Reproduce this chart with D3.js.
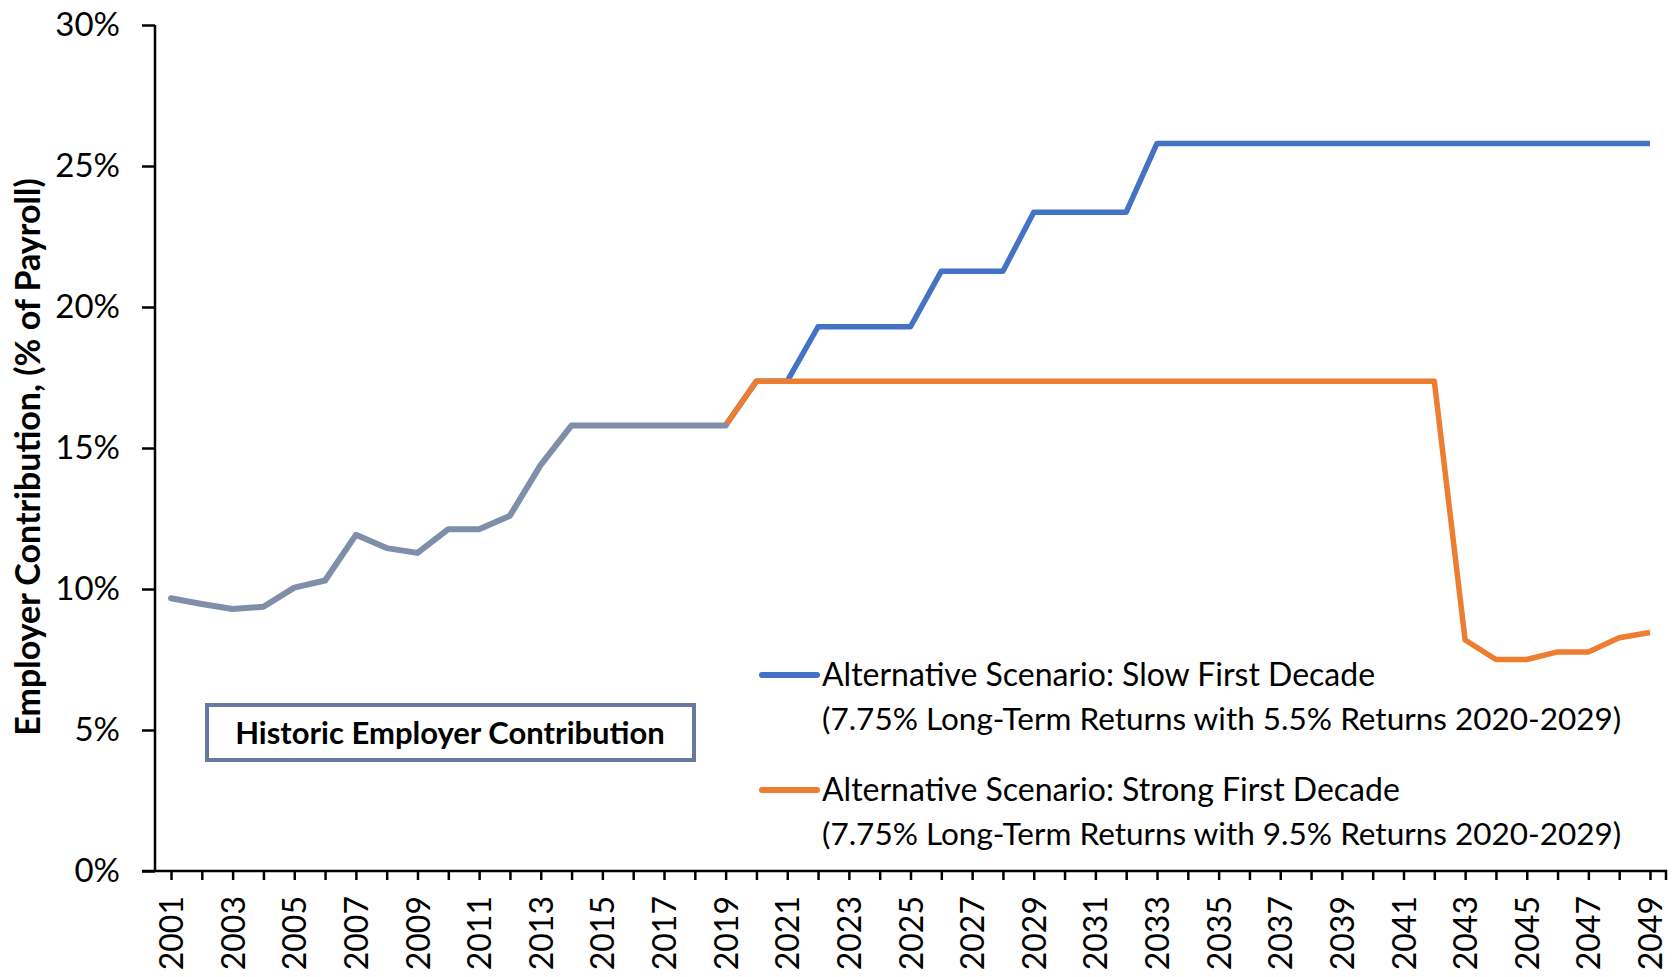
<!DOCTYPE html>
<html><head><meta charset="utf-8">
<script src="https://cdn.jsdelivr.net/npm/d3@7"></script>
<style>body{margin:0;background:#fff}svg{display:block}text{font-family:Lato,"Open Sans",sans-serif;fill:#000}</style>
</head><body><svg id="c" width="1675" height="977"></svg>
<script>
const years = d3.range(2001, 2050);
const historicYears = d3.range(2001, 2020);
const historic = [9.67,9.47,9.29,9.37,10.05,10.3,11.92,11.45,11.28,12.12,12.12,12.6,14.4,15.8,15.8,15.8,15.8,15.8,15.8];
const slowYears = d3.range(2019, 2050);
const slow = [15.8,17.37,17.37,19.3,19.3,19.3,19.3,21.27,21.27,21.27,23.36,23.36,23.36,23.36,25.8,25.8,25.8,25.8,25.8,25.8,25.8,25.8,25.8,25.8,25.8,25.8,25.8,25.8,25.8,25.8,25.8];
const strong = [15.8,17.37,17.37,17.37,17.37,17.37,17.37,17.37,17.37,17.37,17.37,17.37,17.37,17.37,17.37,17.37,17.37,17.37,17.37,17.37,17.37,17.37,17.37,17.37,8.19,7.5,7.5,7.77,7.77,8.27,8.46];
const yTicks = [0,5,10,15,20,25,30];
const xLabelYears = years.filter((d,i)=>i%2===0);
const legendLabels = [
  ["Alternative Scenario: Slow First Decade","(7.75% Long-Term Returns with 5.5% Returns 2020-2029)"],
  ["Alternative Scenario: Strong First Decade","(7.75% Long-Term Returns with 9.5% Returns 2020-2029)"]
];
const boxLabel = "Historic Employer Contribution";
const yTitle = "Employer Contribution, (% of Payroll)";
const colors = {historic:"#7f8ea9", slow:"#4472c4", strong:"#ed7d31", box:"#6878a0"};

const svg = d3.select("#c");
const x = d3.scalePoint().domain(years).range([171,1650]);
const y = d3.scaleLinear().domain([0,30]).range([871,25]);
const axisLeftX = 155, axisRightX = 1666;

// Y axis
const ya = svg.append("g").attr("transform",`translate(${axisLeftX},0)`)
  .call(d3.axisLeft(y).tickValues(yTicks).tickFormat(d=>d+"%").tickSize(13).tickPadding(22));
ya.select(".domain").attr("stroke","#000").attr("stroke-width",2.5).attr("d",`M0,${y(30)}V${y(0)}`);
ya.selectAll(".tick line").attr("stroke","#000").attr("stroke-width",2.5);
ya.selectAll(".tick text").style("font-size","33px").attr("fill","#000");

// X axis
const xa = svg.append("g").attr("transform",`translate(0,${y(0)})`)
  .call(d3.axisBottom(x).tickValues(years).tickSize(9).tickFormat(d=> xLabelYears.includes(d)? String(d):""));
xa.select(".domain").attr("stroke","#000").attr("stroke-width",2.5).attr("d",`M${axisLeftX-13},0H${axisRightX}V9`);
xa.selectAll(".tick line").attr("stroke","#000").attr("stroke-width",2.5);
xa.selectAll(".tick text").style("font-size","32px").attr("fill","#000")
  .attr("text-anchor","end").attr("transform","rotate(-90)").attr("x",-25).attr("y",0).attr("dy","0.36em");

// lines
const line = (xs)=> d3.line().x((d,i)=>x(xs[i])).y(d=>y(d)).curve(d3.curveLinear);
svg.append("path").datum(slow).attr("d",line(slowYears)).attr("fill","none").attr("stroke",colors.slow).attr("stroke-width",5.5).attr("stroke-linejoin","round");
svg.append("path").datum(strong).attr("d",line(slowYears)).attr("fill","none").attr("stroke",colors.strong).attr("stroke-width",5.5).attr("stroke-linejoin","round");
svg.append("path").datum(historic).attr("d",line(historicYears)).attr("fill","none").attr("stroke",colors.historic).attr("stroke-width",6).attr("stroke-linejoin","round").attr("stroke-linecap","round");

// legend
const leg = svg.append("g");
[[colors.slow,675],[colors.strong,790]].forEach(([c,ly],i)=>{
  leg.append("line").attr("x1",762).attr("x2",817).attr("y1",ly).attr("y2",ly).attr("stroke",c).attr("stroke-width",6).attr("stroke-linecap","round");
  leg.append("text").attr("x",822).attr("y",ly).attr("dy","0.35em").style("font-size","32px").text(legendLabels[i][0]);
  leg.append("text").attr("x",822).attr("y",ly+44).attr("dy","0.35em").style("font-size","31.5px").text(legendLabels[i][1]);
});

// box
svg.append("rect").attr("x",207).attr("y",705).attr("width",487).attr("height",55).attr("fill","#fff").attr("stroke",colors.box).attr("stroke-width",4);
svg.append("text").attr("x",450).attr("y",733).attr("dy","0.35em").attr("text-anchor","middle").style("font-size","31px").style("font-weight","bold").text(boxLabel);

// y title
svg.append("text").attr("transform","translate(28,457) rotate(-90)").attr("text-anchor","middle").attr("dy","0.35em")
  .style("font-size","34px").style("font-weight","bold").text(yTitle);
</script></body></html>
